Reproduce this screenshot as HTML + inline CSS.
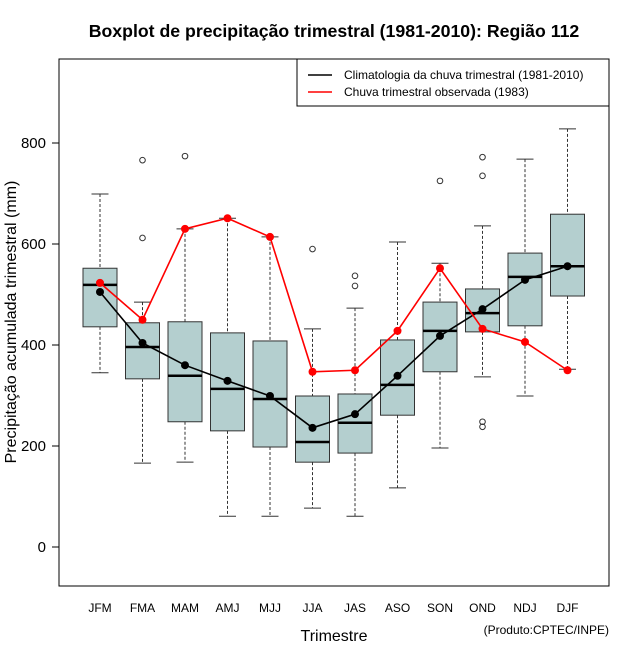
<!DOCTYPE html>
<html><head><meta charset="utf-8"><style>
body{margin:0;background:#fff}
svg text{font-family:"Liberation Sans",sans-serif}
</style></head><body>
<svg id="c" width="640" height="660" xmlns="http://www.w3.org/2000/svg">
<rect width="640" height="660" fill="#fff"/>
<text x="334" y="37" text-anchor="middle" font-size="17.7" font-weight="bold">Boxplot de precipitação trimestral (1981-2010): Região 112</text>
<rect x="59" y="59" width="550" height="527" fill="none" stroke="#000"/>
<g id="yax"></g>
<g id="xax"></g>
<g id="boxes"></g>
<g id="lines"></g>
<text transform="translate(16,322) rotate(-90)" text-anchor="middle" font-size="16">Precipitação acumulada trimestral (mm)</text>
<text x="334" y="641" text-anchor="middle" font-size="16">Trimestre</text>
<text x="609" y="634" text-anchor="end" font-size="12">(Produto:CPTEC/INPE)</text>
<g>
<rect x="297" y="59" width="312" height="47" fill="#fff" stroke="#000"/>
<g><line x1="308" y1="75" x2="332" y2="75" stroke="#000" stroke-width="1.5"/><text x="344" y="79" font-size="12">Climatologia da chuva trimestral (1981-2010)</text></g>
<g><line x1="308" y1="92" x2="332" y2="92" stroke="red" stroke-width="1.5"/><text x="344" y="96" font-size="12">Chuva trimestral observada (1983)</text></g>
</g>
</svg>
<script>
const categories=["JFM","FMA","MAM","AMJ","MJJ","JJA","JAS","ASO","SON","OND","NDJ","DJF"];
const whiskerHigh=[699,485,630,651,614,432,473,604,562,636,768,828];
const q3=[552,444,446,424,408,299,303,410,485,511,582,659];
const medians=[519,396,339,313,293,208,246,321,428,463,535,556];
const q1=[436,333,248,230,198,168,186,261,347,426,438,497];
const whiskerLow=[345,166,168,61,61,77,61,117,196,337,299,352];
const outliers=[[],[766,612],[774],[],[],[590],[537,517],[],[725],[772,735,248,238],[],[]];
const climatology=[505,404,360,329,299,236,263,339,418,471,529,556];
const observed=[523,450,630,651,614,347,350,428,552,432,406,350];
const yTicks=[0,200,400,600,800];
const NS="http://www.w3.org/2000/svg";
const y=v=>547-v*0.505;
const x=i=>100+i*42.5;
function mk(tag,attrs,parent){const e=document.createElementNS(NS,tag);for(const k in attrs)e.setAttribute(k,attrs[k]);parent.appendChild(e);return e;}
const yax=document.getElementById('yax'),xax=document.getElementById('xax'),bx=document.getElementById('boxes'),ln=document.getElementById('lines');
mk('line',{x1:59,x2:59,y1:y(0),y2:y(800),stroke:'#000'},yax);
yTicks.forEach(t=>{
 const g=mk('g',{},yax);
 
 
 mk('line',{x1:52,x2:59,y1:y(t),y2:y(t),stroke:'#000'},g);
 const tx=mk('text',{x:46,y:y(t)+5,'text-anchor':'end','font-size':15},g);tx.textContent=t;
});
categories.forEach((c,i)=>{
 const t=mk('text',{x:x(i),y:612,'text-anchor':'middle','font-size':12},xax);t.textContent=c;
 
 
 const g=mk('g',{},bx);
 
 
 const cx=x(i);
 mk('line',{x1:cx,x2:cx,y1:y(whiskerHigh[i]),y2:y(q3[i]),stroke:'#333','stroke-dasharray':'3,2'},g);
 mk('line',{x1:cx,x2:cx,y1:y(q1[i]),y2:y(whiskerLow[i]),stroke:'#333','stroke-dasharray':'3,2'},g);
 mk('line',{x1:cx-8.5,x2:cx+8.5,y1:y(whiskerHigh[i]),y2:y(whiskerHigh[i]),stroke:'#333'},g);
 mk('line',{x1:cx-8.5,x2:cx+8.5,y1:y(whiskerLow[i]),y2:y(whiskerLow[i]),stroke:'#333'},g);
 mk('rect',{x:cx-17,y:y(q3[i]),width:34,height:y(q1[i])-y(q3[i]),fill:'#b4cfcf',stroke:'#333'},g);
 mk('line',{x1:cx-17,x2:cx+17,y1:y(medians[i]),y2:y(medians[i]),stroke:'#000','stroke-width':2.5},g);
 outliers[i].forEach(o=>mk('circle',{cx:cx,cy:y(o),r:2.8,fill:'none',stroke:'#333'},g));
});
function series(vals,col,name){
 const g=mk('g',{},ln);
 
 
 mk('polyline',{points:vals.map((v,i)=>x(i)+','+y(v)).join(' '),fill:'none',stroke:col,'stroke-width':1.6},g);
 vals.forEach((v,i)=>mk('circle',{cx:x(i),cy:y(v),r:4,fill:col},g));
}
series(climatology,'#000','climatology-line');
series(observed,'red','observed-line');
</script>
</body></html>
